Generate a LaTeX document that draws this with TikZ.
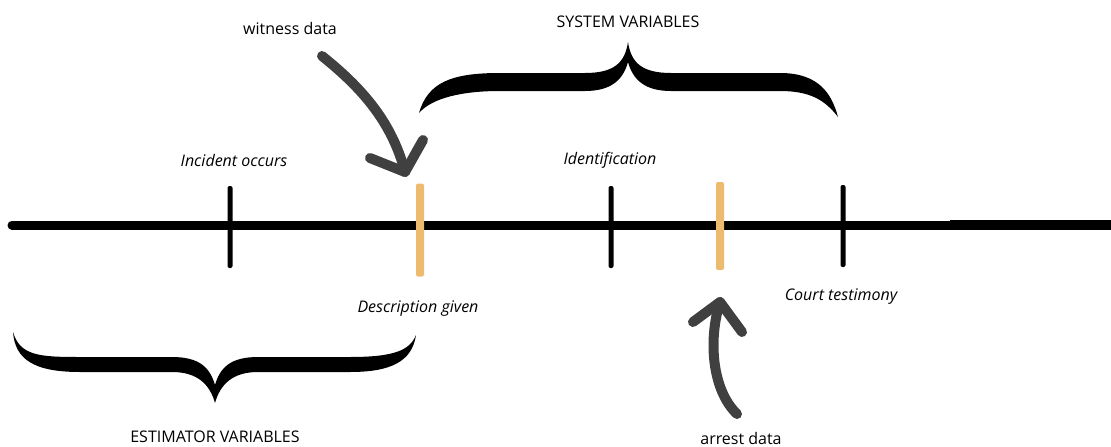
\documentclass[tikz,border=0pt]{standalone}
\usepackage{fontspec}
\setmainfont{Open Sans}
\definecolor{tick_orange}{HTML}{EDBB6F}
\definecolor{arrow_grey}{HTML}{404040}
\tikzset{
	time_line/.style = {
		line width=9pt,
		line cap=round
	},
	tick_black/.style = {
		rectangle,
		rounded corners=2pt,
		fill=black,
		inner sep=0pt,
		minimum width=5pt,
		minimum height=82pt
	},
	tick_orange/.style = {
		tick_black,
		fill=tick_orange,
		minimum width=8pt
	},
	label_event/.style = {
		font=\fontsize{16}{18}\selectfont\itshape,
		inner sep=0pt
	},
	label_group/.style = {
		font=\fontsize{16}{18}\selectfont,
		inner sep=0pt
	},
	hand_arrow/.style = {
		draw=arrow_grey,
		line width=10pt,
		line cap=round,
		line join=round
	},
	brace_fill/.style = {
		fill=black
	}
}

\begin{document}
\begin{tikzpicture}[x=1pt,y=-1pt]
\useasboundingbox (0,0) rectangle (1111,447);

% time line and its ticks
\draw[time_line] (12,225) -- (1111,225);
\draw[line width=10pt] (950,225) -- (1111,225);
\node[tick_black] (t_incident) at (230,227) {};
\node[tick_orange, minimum height=93pt] (t_description) at (420,230) {};
\node[tick_black] (t_identification) at (611,227) {};
\node[tick_orange, minimum height=88pt] (t_arrest) at (720,226) {};
\node[tick_black] (t_court) at (843,226) {};

% event labels
\node[label_event] (l_incident) at (234,160) {Incident occurs};
\node[label_event] (l_identification) at (610,160) {Identification};
\node[label_event] (l_description) at (418,309) {Description given};
\node[label_event] (l_court) at (841,297) {Court testimony};

% group labels
\node[label_group] (l_witness) at (290,28) {witness data};
\node[label_group] (l_system) at (628,22) {SYSTEM VARIABLES};
\node[label_group] (l_estimator) at (215,437) {ESTIMATOR VARIABLES};
\node[label_group] (l_arrestdata) at (741,438) {arrest data};

% system brace
\fill[brace_fill] (419,113) .. controls (428,82) and (452,73) .. (500,73)
	-- (585,73) .. controls (615,73) and (625,62) .. (628,42)
	.. controls (631,62) and (641,73) .. (671,73)
	-- (780,73) .. controls (820,73) and (832,95) .. (838,117)
	.. controls (825,100) and (810,91) .. (780,91)
	-- (671,91) .. controls (645,91) and (633,80) .. (628,62)
	.. controls (623,80) and (611,91) .. (585,91)
	-- (500,91) .. controls (462,91) and (432,98) .. (419,113) -- cycle;

% estimator brace
\fill[brace_fill] (13,332) .. controls (20,356) and (40,357) .. (80,357)
	-- (172,357) .. controls (200,357) and (210,368) .. (215,385)
	.. controls (220,368) and (230,357) .. (258,357)
	-- (350,357) .. controls (395,357) and (410,350) .. (416,335)
	.. controls (412,362) and (390,372) .. (350,372)
	-- (258,372) .. controls (232,372) and (220,385) .. (215,403)
	.. controls (210,385) and (198,372) .. (172,372)
	-- (80,372) .. controls (35,372) and (15,360) .. (13,332) -- cycle;

% witness data arrow
\coordinate (w_start) at (322,56);
\coordinate (w_tip) at (405,172);
\draw[hand_arrow] (w_start) .. controls (362,88) and (392,122) .. (w_tip);
\draw[hand_arrow] ([shift={(-35,-14)}]w_tip) -- (w_tip) -- ([shift={(18,-32)}]w_tip);

% arrest data arrow
\coordinate (a_start) at (737,414);
\coordinate (a_tip) at (720,302);
\draw[hand_arrow] (a_start) .. controls (712,390) and (708,340) .. (a_tip);
\draw[hand_arrow] ([shift={(-27,20)}]a_tip) -- (a_tip) -- ([shift={(22,30)}]a_tip);
\end{tikzpicture}
\end{document}
